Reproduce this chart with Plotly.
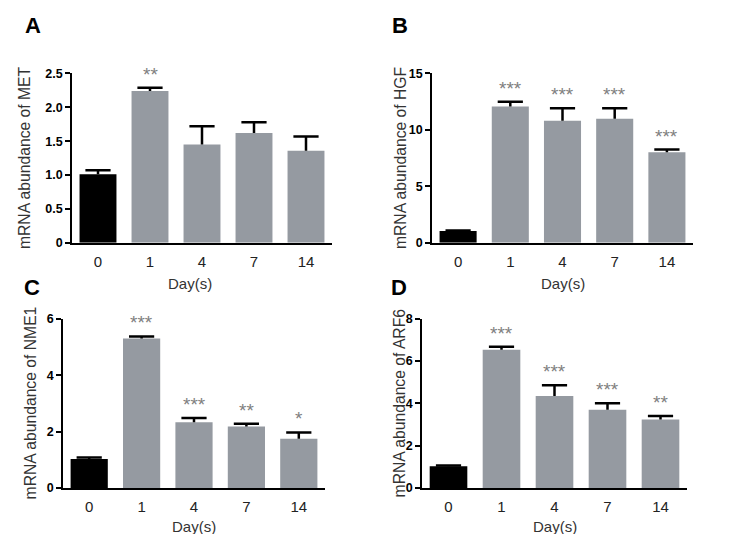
import plotly.graph_objects as go

days = ["0", "1", "4", "7", "14"]

met_mean = [1.01, 2.24, 1.45, 1.62, 1.36]
met_err = [0.06, 0.05, 0.27, 0.16, 0.21]
met_sig = ["", "**", "", "", ""]

hgf_mean = [1.04, 12.06, 10.81, 10.99, 8.02]
hgf_err = [0.05, 0.43, 1.10, 0.92, 0.23]
hgf_sig = ["", "***", "***", "***", "***"]

nme1_mean = [1.03, 5.30, 2.33, 2.18, 1.75]
nme1_err = [0.05, 0.07, 0.15, 0.10, 0.22]
nme1_sig = ["", "***", "***", "**", "*"]

arf6_mean = [1.03, 6.53, 4.35, 3.70, 3.24]
arf6_err = [0.04, 0.14, 0.51, 0.31, 0.16]
arf6_sig = ["", "***", "***", "***", "**"]

panel_letters = ["A", "B", "C", "D"]
genes = ["MET", "HGF", "NME1", "ARF6"]
y_ticks = [
    ([0, 0.5, 1.0, 1.5, 2.0, 2.5], ["0", "0.5", "1.0", "1.5", "2.0", "2.5"]),
    ([0, 5, 10, 15], ["0", "5", "10", "15"]),
    ([0, 2, 4, 6], ["0", "2", "4", "6"]),
    ([0, 2, 4, 6, 8], ["0", "2", "4", "6", "8"]),
]
x_title = "Day(s)"

# page is 746x542; the browser body adds an 8px margin around the figure
OFF = 8
W, H = 746 - 2 * OFF, 542 - 2 * OFF
FONT = "Liberation Sans, Arial, sans-serif"
BLACK_BAR = "#000000"
GRAY_BAR = "#959aa1"
STAR_COLOR = "#808080"


def px_x(p):
    return (p - OFF) / W


def px_y(p):
    return (H - (p - OFF)) / H


# page-pixel layout of each panel: (x_left, x_right, y_top, y_bottom)
panels_px = [
    (72, 332, 68, 242),
    (432, 693, 68, 242),
    (63, 325, 320, 494),
    (422, 687, 320, 494),
]
ytitle_x_px = [24, 400, 30, 399]
xtitle_y_px = [284, 284, 533, 533]
xtitle_x_frac = [0.454, 0.5, 0.5, 0.5]
letter_px = [(33, 19), (400, 19), (32, 288), (399, 288)]

data_sets = [
    (met_mean, met_err, met_sig),
    (hgf_mean, hgf_err, hgf_sig),
    (nme1_mean, nme1_err, nme1_sig),
    (arf6_mean, arf6_err, arf6_sig),
]

fig = go.Figure()
annotations = []
layout = {}

for i, (mean, err, sig) in enumerate(data_sets):
    n = "" if i == 0 else str(i + 1)
    xa, ya = "x" + n, "y" + n
    colors = [BLACK_BAR] + [GRAY_BAR] * (len(days) - 1)
    tops = [m + e for m, e in zip(mean, err)]
    fig.add_trace(go.Bar(
        x=days, y=mean, xaxis=xa, yaxis=ya,
        marker=dict(color=colors, line=dict(width=0)),
        error_y=dict(type="data", symmetric=False, array=err,
                     arrayminus=[0] * len(err), color="black",
                     thickness=2.5, width=0),
        showlegend=False,
    ))
    fig.add_trace(go.Scatter(
        x=days, y=tops, xaxis=xa, yaxis=ya, mode="markers",
        marker=dict(symbol="line-ew", size=18,
                    line=dict(width=2.5, color="black")),
        showlegend=False, hoverinfo="skip",
    ))
    x0, x1, yt, yb = panels_px[i]
    layout["xaxis" + n] = dict(
        domain=[px_x(x0), px_x(x1)], anchor=ya, type="category",
        range=[-0.5, len(days) - 0.5],
        showline=True, linecolor="black", linewidth=2,
        ticks="", showgrid=False, zeroline=False,
        tickfont=dict(family=FONT, size=15, color="#222222"),
        ticklabelstandoff=4,
    )
    tv, tt = y_ticks[i]
    layout["yaxis" + n] = dict(
        domain=[px_y(yb), px_y(yt)], anchor=xa,
        range=[0, tv[-1]], tickvals=tv,
        ticktext=["<b>" + t + "</b>" for t in tt],
        showline=True, linecolor="black", linewidth=1.5,
        ticks="outside", ticklen=5, tickwidth=1.5, tickcolor="black",
        showgrid=False, zeroline=False,
        tickfont=dict(family=FONT, size=12.5, color="black"),
    )
    for j, (t, s) in enumerate(zip(tops, sig)):
        if s:
            annotations.append(dict(
                x=j, y=t, xref=xa, yref=ya, text=s, showarrow=False,
                xanchor="center", yanchor="bottom", yshift=1,
                font=dict(family=FONT, size=19, color=STAR_COLOR),
            ))
    annotations.append(dict(
        x=px_x(ytitle_x_px[i]), xref="paper", y=0.5, yref=ya + " domain",
        xanchor="center", yanchor="middle",
        text="mRNA abundance of " + genes[i], textangle=-90, showarrow=False,
        font=dict(family=FONT, size=15.7, color="#333333"),
    ))
    annotations.append(dict(
        x=xtitle_x_frac[i], xref=xa + " domain", y=px_y(xtitle_y_px[i]),
        yref="paper", xanchor="center", yanchor="middle",
        text=x_title, showarrow=False,
        font=dict(family=FONT, size=15, color="#333333"),
    ))
    lx, ly = letter_px[i]
    annotations.append(dict(
        x=px_x(lx), xref="paper", y=px_y(ly), yref="paper",
        xanchor="center", yanchor="middle",
        text="<b>" + panel_letters[i] + "</b>", showarrow=False,
        font=dict(family=FONT, size=22, color="black"),
    ))

fig.update_layout(
    width=W, height=H, margin=dict(l=0, r=0, t=0, b=0),
    paper_bgcolor="white", plot_bgcolor="white",
    bargap=0.29, annotations=annotations, **layout,
)
fig.write_html("out.html")
